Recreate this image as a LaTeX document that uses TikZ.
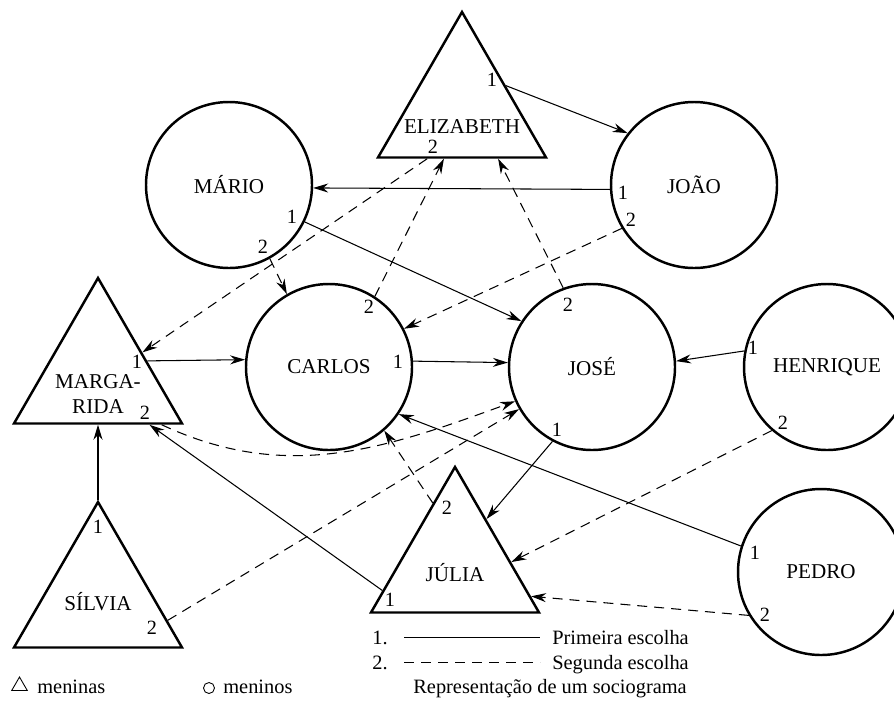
\documentclass[tikz,border=0pt]{standalone}
\usepackage{fontspec}
\setmainfont{Liberation Serif}
\usepackage{tikz}
\usetikzlibrary{shapes.geometric, arrows.meta, positioning}
\newcommand{\namefont}{\fontsize{12}{14}\selectfont}
\newcommand{\numfont}{\fontsize{11.5}{13}\selectfont}
\newcommand{\legfont}{\fontsize{11.6}{13.5}\selectfont}
\tikzset{
  boy/.style         = {circle, draw, line width=1.4pt, minimum size=3.32cm,
                        inner sep=0pt, font=\namefont},
  girl/.style        = {regular polygon, regular polygon sides=3, draw,
                        line width=1.4pt, minimum size=3.88cm, inner sep=0pt},
  girlname/.style    = {font=\namefont, align=center, inner sep=0pt},
  num/.style         = {font=\numfont, inner sep=0pt},
  legend/.style      = {font=\legfont, inner sep=0pt},
  firstline/.style   = {line width=0.6pt},
  seconddash/.style  = {firstline, dash pattern=on 0.2cm off 0.14cm},
  firstarrow/.style  = {firstline, -{Stealth[length=0.3cm, width=0.18cm]}},
  secondarrow/.style = {firstarrow, dash pattern=on 0.2cm off 0.14cm}
}

\begin{document}
\begin{tikzpicture}[on grid]
  \useasboundingbox (0,0) rectangle (17.88,-14.02);

  % Boys (circles)
  \node (carlos)   [boy] at (6.58,-7.34) {CARLOS};
  \node (jose)     [boy, right=5.26cm of carlos]                    {JOSÉ};
  \node (henrique) [boy, right=4.70cm of jose]                      {HENRIQUE};
  \node (mario)    [boy, above left=3.64cm and 2.00cm of carlos]    {MÁRIO};
  \node (joao)     [boy, right=9.30cm of mario]                     {JOÃO};
  \node (pedro)    [boy, below left=4.10cm and 0.12cm of henrique]  {PEDRO};

  % Girls (triangles)
  \node (eliz)   [girl, above right=1.52cm and 4.66cm of mario,
                  label={[girlname, name=elizname, yshift=-0.36cm]center:ELIZABETH}] {};
  \node (marg)   [girl, below left=0.16cm and 4.62cm of carlos,
                  label={[girlname, name=margname, yshift=-0.38cm]center:{MARGA-\\RIDA}}] {};
  \node (silvia) [girl, below=4.48cm of marg,
                  label={[girlname, name=silvianame, yshift=-0.06cm]center:SÍLVIA}] {};
  \node (julia)  [girl, below right=3.94cm and 2.52cm of carlos,
                  label={[girlname, name=julianame, yshift=-0.18cm]center:JÚLIA}] {};

  % Choice numbers
  \node (eliz1)     [num, above right=0.58cm and 0.60cm of eliz]     {1};
  \node (eliz2)     [num, below left=0.76cm and 0.58cm of eliz]      {2};
  \node (joao1)     [num, below left=0.16cm and 1.42cm of joao]      {1};
  \node (joao2)     [num, below left=0.70cm and 1.26cm of joao]      {2};
  \node (mario1)    [num, below right=0.64cm and 1.26cm of mario]    {1};
  \node (mario2)    [num, below right=1.24cm and 0.68cm of mario]    {2};
  \node (carlos1)   [num, above right=0.10cm and 1.38cm of carlos]   {1};
  \node (carlos2)   [num, above right=1.20cm and 0.80cm of carlos]   {2};
  \node (jose1)     [num, below left=1.26cm and 0.70cm of jose]      {1};
  \node (jose2)     [num, above left=1.24cm and 0.48cm of jose]      {2};
  \node (henrique1) [num, above left=0.38cm and 1.48cm of henrique]  {1};
  \node (henrique2) [num, below left=1.12cm and 0.88cm of henrique]  {2};
  \node (pedro1)    [num, above left=0.38cm and 1.32cm of pedro]     {1};
  \node (pedro2)    [num, below left=0.86cm and 1.12cm of pedro]     {2};
  \node (marg1)     [num, above right=0.26cm and 0.78cm of marg]     {1};
  \node (marg2)     [num, below right=0.76cm and 0.94cm of marg]     {2};
  \node (silvia1)   [num, above=1.44cm of silvia]                    {1};
  \node (silvia2)   [num, below right=0.58cm and 1.08cm of silvia]   {2};
  \node (julia1)    [num, below left=0.72cm and 1.30cm of julia]     {1};
  \node (julia2)    [num, above left=1.12cm and 0.16cm of julia]     {2};

  % First choices
  \draw[firstarrow] (eliz.28)      -- (joao.142);
  \draw[firstarrow] (joao.183)     -- (mario.358);
  \draw[firstarrow] (mario.334)    -- (jose.147);
  \draw[firstarrow] (marg.16)      -- (carlos.175);
  \draw[firstarrow] (carlos.4)     -- (jose.177);
  \draw[firstarrow] (henrique.169) -- (jose.4);
  \draw[firstarrow] (jose.242)     -- (julia.55);
  \draw[firstarrow] (pedro.162)    -- (carlos.326);
  \draw[firstarrow] (julia.200)    -- (marg.316);
  \draw[firstarrow] (silvia.90)    -- (marg.270);
  % Second choices
  \draw[secondarrow] (eliz.235)     -- (marg.27);
  \draw[secondarrow] (joao.211)     -- (carlos.27);
  \draw[secondarrow] (mario.299)    -- (carlos.120);
  \draw[secondarrow] (carlos.57)    -- (eliz.250);
  \draw[secondarrow] (jose.110)     -- (eliz.306);
  \draw[secondarrow] (henrique.229) -- (julia.2);
  \draw[secondarrow] (pedro.211)    -- (julia.337);
  \draw[secondarrow] (julia.110)    -- (carlos.311);
  \draw[secondarrow] (silvia.343)   -- (jose.210);
  \draw[secondarrow] (marg.322) to[out=-25, in=200] (jose.204);

  % Legend
  \node (legone)    [legend, anchor=base west] at (7.44,-12.88)  {1.};
  \node (legtwo)    [legend, anchor=base west] at (7.44,-13.38)  {2.};
  \node (legfirst)  [legend, anchor=base west] at (11.04,-12.88) {Primeira escolha};
  \node (legsecond) [legend, anchor=base west] at (11.04,-13.38) {Segunda escolha};
  \node (legtitle)  [legend, anchor=base west] at (8.26,-13.86)  {Representação de um sociograma};
  \draw[firstline]  ([xshift=0.32cm]legone.east) -- ([xshift=-0.24cm]legfirst.west |- legone.east);
  \draw[seconddash] ([xshift=0.32cm]legtwo.east) -- ([xshift=-0.24cm]legsecond.west |- legtwo.east);

  \node (symgirl) [regular polygon, regular polygon sides=3, draw, line width=0.5pt,
                   minimum size=0.36cm, inner sep=0pt] at (0.39,-13.72) {};
  \node (meninas) [legend, anchor=base west] at (0.74,-13.86) {meninas};
  \node (symboy)  [circle, draw, line width=0.5pt, minimum size=0.22cm,
                   inner sep=0pt] at (4.18,-13.76) {};
  \node (meninos) [legend, anchor=base west] at (4.46,-13.86) {meninos};
\end{tikzpicture}
\end{document}
